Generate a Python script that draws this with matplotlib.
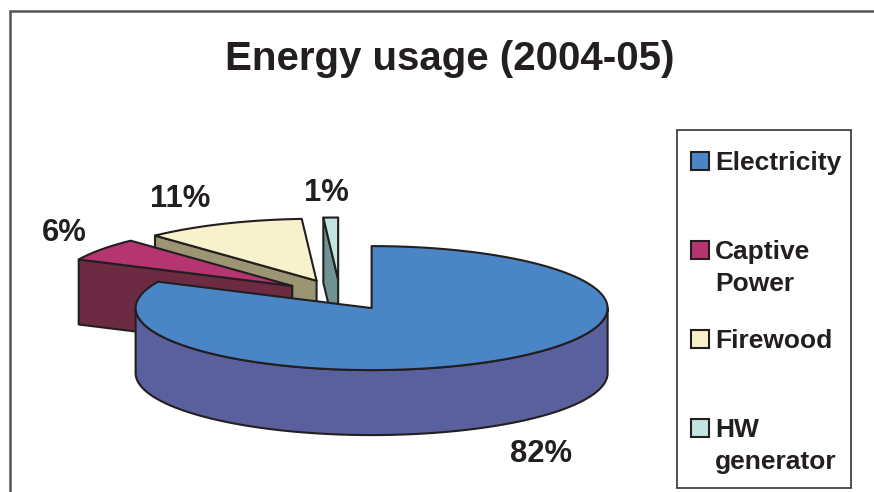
"""Exploded 3D-style pie chart of energy usage, with a boxed legend."""

import matplotlib
matplotlib.use("Agg")
import matplotlib.pyplot as plt
import numpy as np
from matplotlib.patches import Polygon, Rectangle


categories = ["Electricity", "Captive\nPower", "Firewood", "HW\ngenerator"]
shares = [82, 6, 11, 1]

top_colors = ["#4a86c6", "#b53570", "#f8f2cc", "#c3e4e0"]
side_colors = ["#5a609e", "#6c2b42", "#9c9573", "#6f9292"]
INK = "#231f20"

# Pie geometry, in pixels
CENTER_X, CENTER_Y = 340, 295
RADIUS_X, RADIUS_Y = 236, 62
DEPTH = 65
EXPLODE = 0.25

# Centres of the percentage labels, same order as the categories
label_xy = [(541, 454), (64, 233), (180, 199), (326, 193)]
# Top of each legend swatch and centre line of each legend text row
swatch_top = [152, 241, 330, 419]
legend_rows = [[163], [252, 284], [341], [430, 462]]

# Painting order, back to front
draw_order = [2, 1, 3, 0]

plt.rcParams["font.family"] = ["Liberation Sans", "DejaVu Sans"]

fig = plt.figure(figsize=(8.74, 4.92), dpi=100)
ax = fig.add_axes([0, 0, 1, 1])
ax.set_xlim(0, 874)
ax.set_ylim(492, 0)
ax.axis("off")

# Chart frame runs off the right and bottom edges
ax.plot([10, 10, 874], [492, 11, 11], color="#555555", lw=1.8, solid_joinstyle="miter")

ax.text(450, 59, "Energy usage (2004-05)", ha="center", va="center",
        fontsize=29, fontweight="bold", color=INK)


def rim(cx, cy, start, stop):
    """Points on the elliptical rim; angles run clockwise from 12 o'clock."""
    angles = np.radians(np.linspace(start, stop, 120))
    return np.column_stack([cx + RADIUS_X*np.sin(angles), cy - RADIUS_Y*np.cos(angles)])


def add_face(points, color, zorder):
    ax.add_patch(Polygon(points, closed=True, facecolor=color, edgecolor=INK,
                         lw=1.5, joinstyle="round", zorder=zorder))


# Slice angles from the shares
stops = np.cumsum(shares) * 3.6
starts = stops - np.array(shares) * 3.6

for layer, i in enumerate(draw_order):
    mid = np.radians((starts[i] + stops[i]) / 2)
    cx = CENTER_X + RADIUS_X*EXPLODE*np.sin(mid)
    cy = CENTER_Y - RADIUS_Y*EXPLODE*np.cos(mid)
    apex = np.array([cx, cy])
    arc = rim(cx, cy, starts[i], stops[i])
    down = np.array([0, DEPTH])
    z = 3 + layer*2

    # Radial wall on the leading edge, visible on the slices behind the centre
    if starts[i] > 180:
        add_face([apex, arc[0], arc[0] + down, apex + down], side_colors[i], z)

    # Outer wall, visible only along the front half of the rim
    lo, hi = max(starts[i], 90), min(stops[i], 270)
    if lo < hi:
        front = rim(cx, cy, lo, hi)
        add_face(np.vstack([front, (front + down)[::-1]]), side_colors[i], z)

    add_face(np.vstack([apex, arc]), top_colors[i], z + 1)

for share, (x, y) in zip(shares, label_xy):
    ax.text(x, y, f"{share}%", ha="center", va="center", fontsize=22.3,
            fontweight="bold", color=INK, zorder=20)

# Legend
ax.add_patch(Rectangle((677, 130), 174, 358, facecolor="white", edgecolor="#333333",
                       lw=1.2, zorder=10))
for name, top, rows, color in zip(categories, swatch_top, legend_rows, top_colors):
    ax.add_patch(Rectangle((691, top), 18, 18, facecolor=color, edgecolor=INK,
                           lw=1.5, zorder=11))
    for text, y in zip(name.split("\n"), rows):
        ax.text(715, y, text, ha="left", va="center", fontsize=19,
                fontweight="bold", color=INK, zorder=11)

fig.savefig("out.png", dpi=100)
